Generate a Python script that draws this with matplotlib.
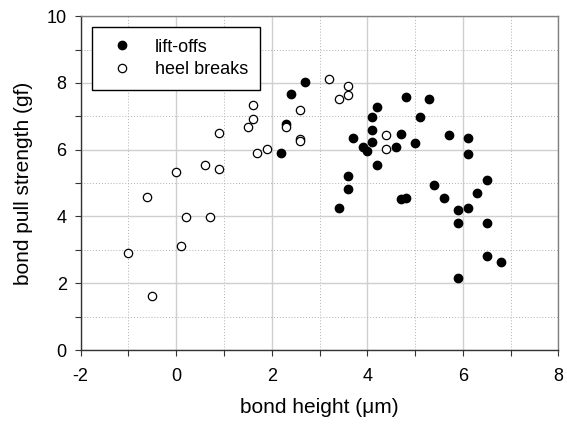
import matplotlib
matplotlib.use("Agg")
import matplotlib.pyplot as plt
from matplotlib.ticker import MultipleLocator

plt.rcParams['font.family'] = ['Liberation Sans', 'DejaVu Sans']
plt.rcParams['axes.unicode_minus'] = False

liftoff_x = [2.7, 2.4, 2.3, 2.2, 4.8, 5.3, 4.2, 4.1, 5.1, 4.1, 3.7, 4.7, 5.7, 6.1, 4.1, 3.9,
             4.0, 4.6, 5.0, 6.1, 4.2, 3.6, 6.5, 3.6, 3.4, 4.7, 4.8, 5.4, 5.6, 6.3, 5.9, 6.1,
             5.9, 6.5, 6.5, 6.8, 5.9]
liftoff_y = [8.04, 7.66, 6.77, 5.89, 7.57, 7.51, 7.27, 6.99, 6.97, 6.58, 6.35, 6.48, 6.44, 6.35,
             6.24, 6.08, 5.96, 6.09, 6.19, 5.87, 5.55, 5.22, 5.09, 4.83, 4.25, 4.51, 4.55, 4.93,
             4.54, 4.71, 4.18, 4.25, 3.81, 3.81, 2.82, 2.63, 2.15]

heel_x = [3.2, 3.6, 3.6, 3.4, 4.4, 4.4, 1.6, 1.6, 1.5, 0.9, 2.6, 2.3, 2.6, 2.6, 1.7, 1.9,
          0.0, 0.6, 0.9, -0.6, 0.2, 0.7, 0.1, -1.0, -0.5]
heel_y = [8.12, 7.90, 7.65, 7.51, 6.44, 6.02, 7.34, 6.91, 6.67, 6.50, 7.19, 6.67, 6.33, 6.25,
          5.90, 6.03, 5.33, 5.54, 5.41, 4.58, 3.97, 3.97, 3.12, 2.90, 1.62]

fig = plt.figure(figsize=(5.67, 4.24), dpi=100)
ax = fig.add_axes([0.142, 0.1745, 0.843, 0.7875])

ax.set_xlim(-2, 8)
ax.set_ylim(0, 10)
ax.xaxis.set_major_locator(MultipleLocator(2))
ax.xaxis.set_minor_locator(MultipleLocator(1))
ax.yaxis.set_major_locator(MultipleLocator(2))
ax.yaxis.set_minor_locator(MultipleLocator(1))

ax.grid(which='major', color='#cfcfcf', linestyle='-', linewidth=1.0)
ax.grid(which='minor', color='#b0b0b0', linestyle=(0, (1, 2)), linewidth=0.7)
ax.set_axisbelow(True)

ax.plot(liftoff_x, liftoff_y, 'o', color='black', markersize=6, linestyle='none', label='lift-offs', zorder=3)
ax.plot(heel_x, heel_y, 'o', markerfacecolor='white', markeredgecolor='black', markeredgewidth=0.9,
        markersize=6, linestyle='none', label='heel breaks', zorder=3)

for s in ['left', 'bottom']:
    ax.spines[s].set_color('#333333')
    ax.spines[s].set_linewidth(1.0)
for s in ['top', 'right']:
    ax.spines[s].set_color('#808080')
    ax.spines[s].set_linewidth(1.0)

ax.tick_params(which='both', direction='out', length=4, width=0.8, colors='#333333', labelcolor='black',
               labelsize=13)
ax.tick_params(axis='x', pad=9)
ax.tick_params(axis='y', pad=6)

ax.set_xlabel('bond height (\u03bcm)', fontsize=15, labelpad=9)
ax.set_ylabel('bond pull strength (gf)', fontsize=15, labelpad=10)

leg = ax.legend(loc='upper left', bbox_to_anchor=(0.025, 0.968), frameon=True, fancybox=False,
                edgecolor='black', fontsize=13, borderpad=0.65, handletextpad=0.8,
                labelspacing=0.3, borderaxespad=0, handlelength=2.0)
leg.get_frame().set_linewidth(1.0)
leg.get_frame().set_alpha(1)

fig.savefig('out.png', dpi=100)
